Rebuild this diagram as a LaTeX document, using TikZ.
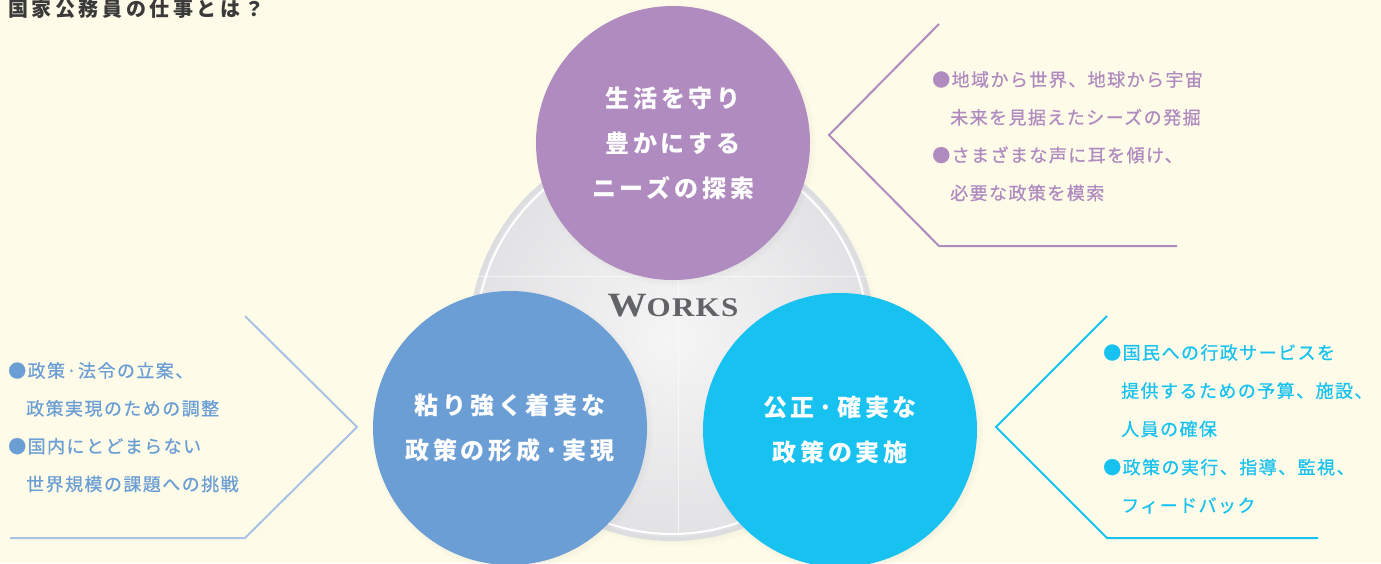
\documentclass[tikz,border=0pt]{standalone}
\usepackage{graphicx}
\usepackage{fontspec}
\setmainfont{Noto Sans CJK JP}
\newfontfamily\worksfont{Liberation Serif}
\usetikzlibrary{shadows}

\definecolor{paper}{HTML}{FEFCE8}
\definecolor{titlegray}{HTML}{3A3A3A}
\definecolor{worksgray}{HTML}{626366}
\definecolor{discRim}{HTML}{DCDDE0}
\definecolor{discIn}{HTML}{F5F5F6}
\definecolor{discOut}{HTML}{E2E2E4}
\definecolor{needsPurple}{HTML}{B08BC0}
\definecolor{planBlue}{HTML}{6B9ED4}
\definecolor{planLine}{HTML}{A8C3E6}
\definecolor{doCyan}{HTML}{17C1F0}

\begin{document}
\begin{tikzpicture}
[x=1pt,y=-1pt,
  circDecorate/.style={shape=circle,inner sep=0pt,minimum size=274pt,text=white,align=center,
    circular drop shadow={shadow xshift=2pt,shadow yshift=-2pt,opacity=.22,shadow scale=1.03},
    font=\fontsize{24}{45}\selectfont\bfseries\addfontfeatures{LetterSpace=16}},
  lineDecorate/.style={-,line width=2pt,line join=miter},
  listDecorate/.style={anchor=north west,inner sep=0pt,align=left,
    font=\fontsize{18}{37.8}\selectfont\addfontfeatures{LetterSpace=8,FakeBold=0.7}}]
%% paper
\fill[paper] (0,0) rectangle (1381,563);
\useasboundingbox (0,0) rectangle (1381,563);
%% title
\node (title) [anchor=north west,inner sep=0pt,text=titlegray,
  font=\fontsize{20}{20}\selectfont\bfseries\addfontfeatures{LetterSpace=18}] at (8,-1) {国家公務員の仕事とは？};
%% works disc
\node (works) at (672,338) [shape=circle,inner sep=0pt,minimum size=402pt,
  inner color=discIn,outer color=discOut,draw=discRim,line width=4pt,
  circular drop shadow={shadow xshift=4pt,shadow yshift=-4pt,opacity=.25,shadow scale=1.02}] {};
\draw[white,line width=2pt] (works.center) circle (196pt);
\draw[white,opacity=.6] (678,140) -- (678,536);
\draw[white,opacity=.6] (472,276) -- (872,276);
\node (worksname) at (673,306) [text=worksgray,font=\worksfont\bfseries\fontsize{34}{34}\selectfont\addfontfeatures{LetterSpace=4}]
  {\scalebox{1.15}[1]{W\fontsize{27}{27}\selectfont ORKS}};
%% three circles
\node (needs) at (673,143) [circDecorate,fill=needsPurple] {生活を守り\\豊かにする\\ニーズの探索};
\node (plan) at (510,428) [circDecorate,fill=planBlue] {粘り強く着実な\\政策の形成·実現};
\node (doit) at (840,430) [circDecorate,fill=doCyan] {公正·確実な\\政策の実施};
%% chevron corners
\foreach \cname/\x/\y in {
  pt/939/24, pa/829/135, pb/939/246, pe/1177/246,
  bt/245/316, ba/357/427, bb/245/538, be/10/538,
  ct/1107/316, ca/996/427, cb/1107/538, ce/1318/538}
{
  \coordinate (\cname) at (\x,\y);
}
\draw[lineDecorate,needsPurple] (pt) -- (pa) -- (pb) -- (pe);
\draw[lineDecorate,planLine] (bt) -- (ba) -- (bb) -- (be);
\draw[lineDecorate,doCyan] (ct) -- (ca) -- (cb) -- (ce);
%% lists
\node (needsList) at (932,71) [listDecorate,text=needsPurple]
  {●地域から世界、地球から宇宙\\\phantom{●}未来を見据えたシーズの発掘\\●さまざまな声に耳を傾け、\\\phantom{●}必要な政策を模索};
\node (planList) at (8,362) [listDecorate,text=planBlue]
  {●政策·法令の立案、\\\phantom{●}政策実現のための調整\\●国内にとどまらない\\\phantom{●}世界規模の課題への挑戦};
\node (doList) at (1103,344) [listDecorate,text=doCyan,font=\fontsize{18}{38.2}\selectfont\addfontfeatures{LetterSpace=8,FakeBold=0.7}]
  {●国民への行政サービスを\\\phantom{●}提供するための予算、施設、\\\phantom{●}人員の確保\\●政策の実行、指導、監視、\\\phantom{●}フィードバック};
\end{tikzpicture}
\end{document}
